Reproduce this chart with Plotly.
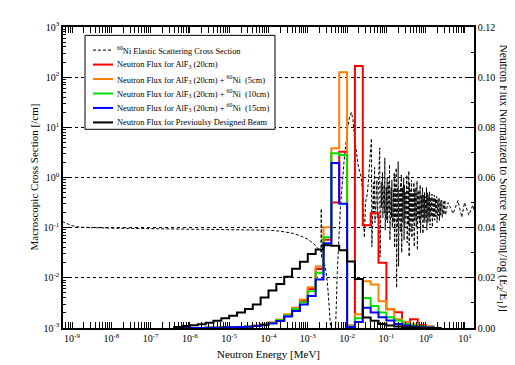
import plotly.graph_objects as go

# ---------------- data ----------------
# lower edges of the energy bins (log10 MeV), bins are 0.2 decade wide
bin_lo_exp = [-6.4, -6.2, -6.0, -5.8, -5.6, -5.4, -5.2, -5.0, -4.8, -4.6,
              -4.4, -4.2, -4.0, -3.8, -3.6, -3.4, -3.2, -3.0, -2.8, -2.6,
              -2.4, -2.2, -2.0, -1.8, -1.6, -1.4, -1.2, -1.0, -0.8, -0.6,
              -0.4, -0.2, 0.0, 0.2]
bin_width_exp = 0.2

flux_prev_beam = [0.0004, 0.0008, 0.0011, 0.0015, 0.0021, 0.0029, 0.0039, 0.0049, 0.0062, 0.0076,
                  0.0094, 0.0122, 0.0150, 0.0175, 0.0204, 0.0236, 0.0264, 0.0295, 0.0313, 0.0330,
                  0.0328, 0.0310, 0.0265, 0.0195, 0.0042, 0.0029, 0.0016, 0.0010, 0.0006, 0.0003,
                  0.0002, 0.0001, 0.0, 0.0]
flux_alf3 = [0.0, 0.0, 0.0, 0.0, 0.0001, 0.0001, 0.0002, 0.0003, 0.0004, 0.0006,
             0.0009, 0.0014, 0.0021, 0.0032, 0.0052, 0.0077, 0.0108, 0.0155, 0.0235, 0.0352,
             0.0500, 0.0703, 0.0010, 0.1045, 0.0410, 0.0457, 0.0260, 0.0075, 0.0063, 0.0024,
             0.0035, 0.0012, 0.0006, 0.0]
flux_ni5 = [0.0, 0.0, 0.0, 0.0, 0.0001, 0.0001, 0.0002, 0.0003, 0.0004, 0.0006,
            0.0009, 0.0015, 0.0022, 0.0034, 0.0055, 0.0081, 0.0114, 0.0162, 0.0245, 0.0402,
            0.0717, 0.1020, 0.0008, 0.0055, 0.0186, 0.0173, 0.0107, 0.0075, 0.0035, 0.0024,
            0.0015, 0.0008, 0.0004, 0.0]
flux_ni10 = [0.0, 0.0, 0.0, 0.0, 0.0001, 0.0001, 0.0002, 0.0003, 0.0004, 0.0006,
             0.0008, 0.0013, 0.0020, 0.0031, 0.0050, 0.0075, 0.0103, 0.0147, 0.0220, 0.0362,
             0.0697, 0.0690, 0.0006, 0.0039, 0.0120, 0.0088, 0.0062, 0.0043, 0.0030, 0.0016,
             0.0010, 0.0006, 0.0003, 0.0]
flux_ni15 = [0.0, 0.0, 0.0, 0.0, 0.0001, 0.0001, 0.0002, 0.0003, 0.0004, 0.0005,
             0.0008, 0.0012, 0.0018, 0.0028, 0.0046, 0.0068, 0.0094, 0.0128, 0.0193, 0.0338,
             0.0658, 0.0495, 0.0004, 0.0024, 0.0081, 0.0062, 0.0043, 0.0030, 0.0016, 0.0010,
             0.0006, 0.0003, 0.0002, 0.0]

# 60Ni elastic scattering macroscopic cross section (log10 E [MeV], log10 sigma [/cm])
xs_log_energy = [-9.25, -9.1, -9.0, -8.8, -8.5, -8.0, -7.0, -6.0, -5.0, -4.5,
                 -4.0, -3.7, -3.4, -3.2, -3.0, -2.85, -2.72, -2.665, -2.657, -2.65,
                 -2.6, -2.55, -2.5, -2.45, -2.4, -2.35, -2.3, -2.25, -2.17, -2.08,
                 -2.0, -1.94, -1.89, -1.85, -1.81, -1.72, -1.64, -1.6, -1.56, -1.53,
                 -1.48,
                 -1.38, -1.37, -1.33, -1.32, -1.30, -1.29, -1.24, -1.23, -1.17, -1.16,
                 -1.13, -1.12, -1.10, -1.09, -1.06, -1.05, -1.04, -1.03, -1.00, -0.99,
                 -0.98, -0.97, -0.94, -0.93, -0.92, -0.91, -0.88, -0.87, -0.86, -0.85,
                 -0.82, -0.81, -0.80, -0.79, -0.77, -0.76, -0.75, -0.74, -0.72, -0.71,
                 -0.70, -0.69, -0.67, -0.66, -0.64, -0.63, -0.62, -0.61, -0.59, -0.58,
                 -0.56, -0.55, -0.54, -0.53, -0.51, -0.50, -0.48, -0.47, -0.45, -0.44,
                 -0.43, -0.42, -0.41, -0.40, -0.38, -0.37, -0.36, -0.35, -0.33, -0.32,
                 -0.30, -0.29, -0.28, -0.27, -0.25, -0.24, -0.22, -0.21, -0.20, -0.19,
                 -0.17, -0.16, -0.14, -0.13, -0.11, -0.10, -0.08, -0.07, -0.05, -0.04,
                 -0.03, -0.02, 0.00, 0.01, 0.02, 0.03, 0.05, 0.06, 0.08, 0.09,
                 0.10, 0.11, 0.13, 0.14, 0.16, 0.17, 0.19, 0.20, 0.22, 0.23,
                 0.25, 0.26, 0.28, 0.29, 0.31, 0.32, 0.34, 0.35, 0.37, 0.38,
                 0.41, 0.42, 0.45, 0.46, 0.49, 0.50,
                 0.57, 0.70, 0.82, 0.92, 0.99, 1.10, 1.20, 1.25]
xs_log_sigma = [-0.88, -0.93, -0.96, -0.99, -1.00, -1.01, -1.02, -1.03, -1.04, -1.04,
                -1.05, -1.07, -1.11, -1.16, -1.23, -1.32, -1.42, -1.48, -0.62, -1.60,
                -1.62, -1.80, -2.10, -2.60, -3.20, -3.30, -3.20, -1.90, -0.60, 0.30,
                0.90, 1.20, 1.30, 1.15, 0.80, 0.25, 0.00, -0.30, -1.20, -0.50,
                -0.30,
                0.78, -1.38, -0.10, -0.70, 0.20, -0.90, -0.05, -0.80, 0.59, -1.58,
                -0.10, -0.60, 0.10, -0.80, -0.15, -0.70, 0.39, -1.05, -0.20, -0.85,
                0.00, -0.90, -0.10, -0.70, 0.26, -1.25, -0.20, -0.80, -0.05, -1.00,
                -0.25, -0.90, 0.10, -1.40, -0.15, -0.80, 0.19, -2.20, -0.20, -1.00,
                0.32, -1.77, -0.25, -0.85, -0.10, -1.10, 0.05, -1.50, -0.20, -0.90,
                0.00, -1.25, -0.15, -1.00, -0.30, -0.80, 0.05, -1.30, -0.20, -0.95,
                0.13, -1.58, -0.10, -1.10, -0.25, -0.85, -0.05, -1.20, -0.30, -0.90,
                -0.10, -1.38, -0.25, -0.85, -0.20, -1.00, -0.07, -1.45, -0.30, -0.80,
                -0.25, -0.90, -0.15, -1.10, -0.35, -0.80, -0.20, -1.12, -0.35, -0.85,
                -0.30, -0.90, -0.38, -0.80, -0.20, -1.05, -0.30, -0.90, -0.36, -0.80,
                -0.28, -0.95, -0.40, -0.78, -0.33, -0.99, -0.40, -0.80, -0.35, -0.85,
                -0.42, -0.78, -0.38, -0.90, -0.44, -0.76, -0.40, -0.86, -0.46, -0.75,
                -0.45, -0.80, -0.48, -0.74, -0.45, -0.75, -0.50, -0.72, -0.46, -0.79,
                -0.50, -0.75, -0.55, -0.72, -0.58, -0.72,
                -0.69, -0.67, -0.66, -0.68, -0.72, -0.82, -0.95, -1.00]

x_tick_exp = list(range(-9, 2))
y_tick_exp = list(range(-3, 4))

legend_names = [
    "<sup>60</sup>Ni Elastic Scattering Cross Section",
    "Neutron Flux for AlF<sub>3</sub> (20cm)",
    "Neutron Flux for AlF<sub>3</sub> (20cm) + <sup>60</sup>Ni  (5cm)",
    "Neutron Flux for AlF<sub>3</sub> (20cm) + <sup>60</sup>Ni  (10cm)",
    "Neutron Flux for AlF<sub>3</sub> (20cm) + <sup>60</sup>Ni  (15cm)",
    "Neutron Flux for Previoulsy Designed Beam",
]
legend_colors = ["black", "#ff0000", "#ff8000", "#00e000", "#0000ff", "black"]
legend_dash = ["3px,2px", "solid", "solid", "solid", "solid", "solid"]

# ---------------- helpers ----------------
def step_xy(vals):
    xs = [10 ** bin_lo_exp[0]]
    ys = [0.0]
    for lo, v in zip(bin_lo_exp, vals):
        xs.append(10 ** lo)
        ys.append(v)
    end = 10 ** (bin_lo_exp[-1] + bin_width_exp)
    xs.append(end)
    ys.append(vals[-1])
    xs.append(end)
    ys.append(0.0)
    return xs, ys

FONT = "Liberation Serif, Times New Roman, serif"
W, H = 515, 365
ML, MR, MT, MB = 55, 49, 14, 45
PW, PH = W - ML - MR, H - MT - MB


def px_x(px):
    return (px - ML) / PW


def px_y(py):
    return 1 - (py - MT) / PH


fig = go.Figure()

fig.add_trace(go.Scatter(
    x=[10 ** e for e in xs_log_energy], y=[10 ** s for s in xs_log_sigma],
    mode="lines", name=legend_names[0], yaxis="y",
    line=dict(color="black", width=1, dash="3px,2px"),
))

series = [
    (flux_alf3, legend_colors[1], legend_names[1]),
    (flux_ni5, legend_colors[2], legend_names[2]),
    (flux_ni10, legend_colors[3], legend_names[3]),
    (flux_ni15, legend_colors[4], legend_names[4]),
    (flux_prev_beam, legend_colors[5], legend_names[5]),
]
for vals, col, nm in series:
    xs, ys = step_xy(vals)
    fig.add_trace(go.Scatter(
        x=xs, y=ys, mode="lines", name=nm, yaxis="y2",
        line=dict(color=col, width=2, shape="hv"),
    ))

minor_x = [k * 10 ** n for n in range(-10, 2) for k in range(2, 10)]
minor_y = [k * 10 ** n for n in range(-3, 3) for k in range(2, 10)]

# ---------- legend box (drawn as layout decoration) ----------
shapes = [dict(type="rect", xref="paper", yref="paper",
               x0=px_x(77), x1=px_x(267), y0=px_y(118), y1=px_y(22.5),
               fillcolor="white", line=dict(color="black", width=1), layer="above")]
annotations = []
row0, row_step = 37.5, 14.7
for i, (nm, col, dsh) in enumerate(zip(legend_names, legend_colors, legend_dash)):
    ry = px_y(row0 + i * row_step)
    shapes.append(dict(type="line", xref="paper", yref="paper",
                       x0=px_x(85), x1=px_x(105), y0=ry, y1=ry, layer="above",
                       line=dict(color=col, width=1 if i == 0 else 2, dash=dsh)))
    annotations.append(dict(text=nm, xref="paper", yref="paper", x=px_x(106.5), y=ry,
                            xanchor="left", yanchor="middle", showarrow=False,
                            font=dict(family=FONT, size=8.4, color="black")))

annotations.append(dict(text="Macroscopic Cross Section [/cm]", xref="paper", yref="paper",
                        x=px_x(25), y=0.5, xanchor="center", yanchor="middle", textangle=-90,
                        showarrow=False, font=dict(family=FONT, size=11, color="black")))
annotations.append(dict(text="Neutron Flux Normalized to Source Neutron[/log (E<sub>2</sub>/E<sub>1</sub>)]",
                        xref="paper", yref="paper", x=1.0, xshift=29, y=0.5,
                        xanchor="center", yanchor="middle",
                        textangle=90, showarrow=False, font=dict(family=FONT, size=11.5, color="black")))

fig.update_layout(
    width=W, height=H,
    margin=dict(l=ML, r=MR, t=MT, b=MB),
    paper_bgcolor="white", plot_bgcolor="white",
    font=dict(family=FONT, size=10, color="black"),
    showlegend=False,
    xaxis=dict(
        type="log", range=[-9.23, 1.23],
        tickmode="array", tickvals=[10 ** k for k in x_tick_exp],
        ticktext=[f"10<sup>{k}</sup>" for k in x_tick_exp],
        ticks="inside", ticklen=6, tickwidth=1, tickcolor="black",
        showline=True, linewidth=1.5, linecolor="black", mirror="allticks",
        showgrid=False, zeroline=False,
        minor=dict(tickmode="array", tickvals=minor_x, ticks="inside", ticklen=3,
                   tickcolor="black", showgrid=False),
        tickfont=dict(size=10),
        title=dict(text="Neutron Energy [MeV]", font=dict(size=11), standoff=8),
    ),
    yaxis=dict(
        type="log", range=[-3, 3],
        tickmode="array", tickvals=[10 ** k for k in y_tick_exp],
        ticktext=[f"10<sup>{k}</sup>" for k in y_tick_exp],
        ticks="inside", ticklen=6, tickwidth=1, tickcolor="black",
        showline=True, linewidth=1.5, linecolor="black", mirror=True,
        showgrid=True, gridcolor="black", griddash="dot", gridwidth=1,
        zeroline=False,
        minor=dict(tickmode="array", tickvals=minor_y, ticks="inside", ticklen=3,
                   tickcolor="black", showgrid=False),
        tickfont=dict(size=10),
    ),
    yaxis2=dict(
        overlaying="y", side="right", range=[0, 0.12],
        tickmode="linear", tick0=0, dtick=0.02, tickformat=".2f",
        ticks="inside", ticklen=6, tickwidth=1, tickcolor="black",
        showline=True, linewidth=1.5, linecolor="black",
        showgrid=False, zeroline=False,
        minor=dict(dtick=0.01, ticks="inside", ticklen=3, tickcolor="black", showgrid=False),
        tickfont=dict(size=10),
    ),
    shapes=shapes,
    annotations=annotations,
)

fig.write_html("out.html")
